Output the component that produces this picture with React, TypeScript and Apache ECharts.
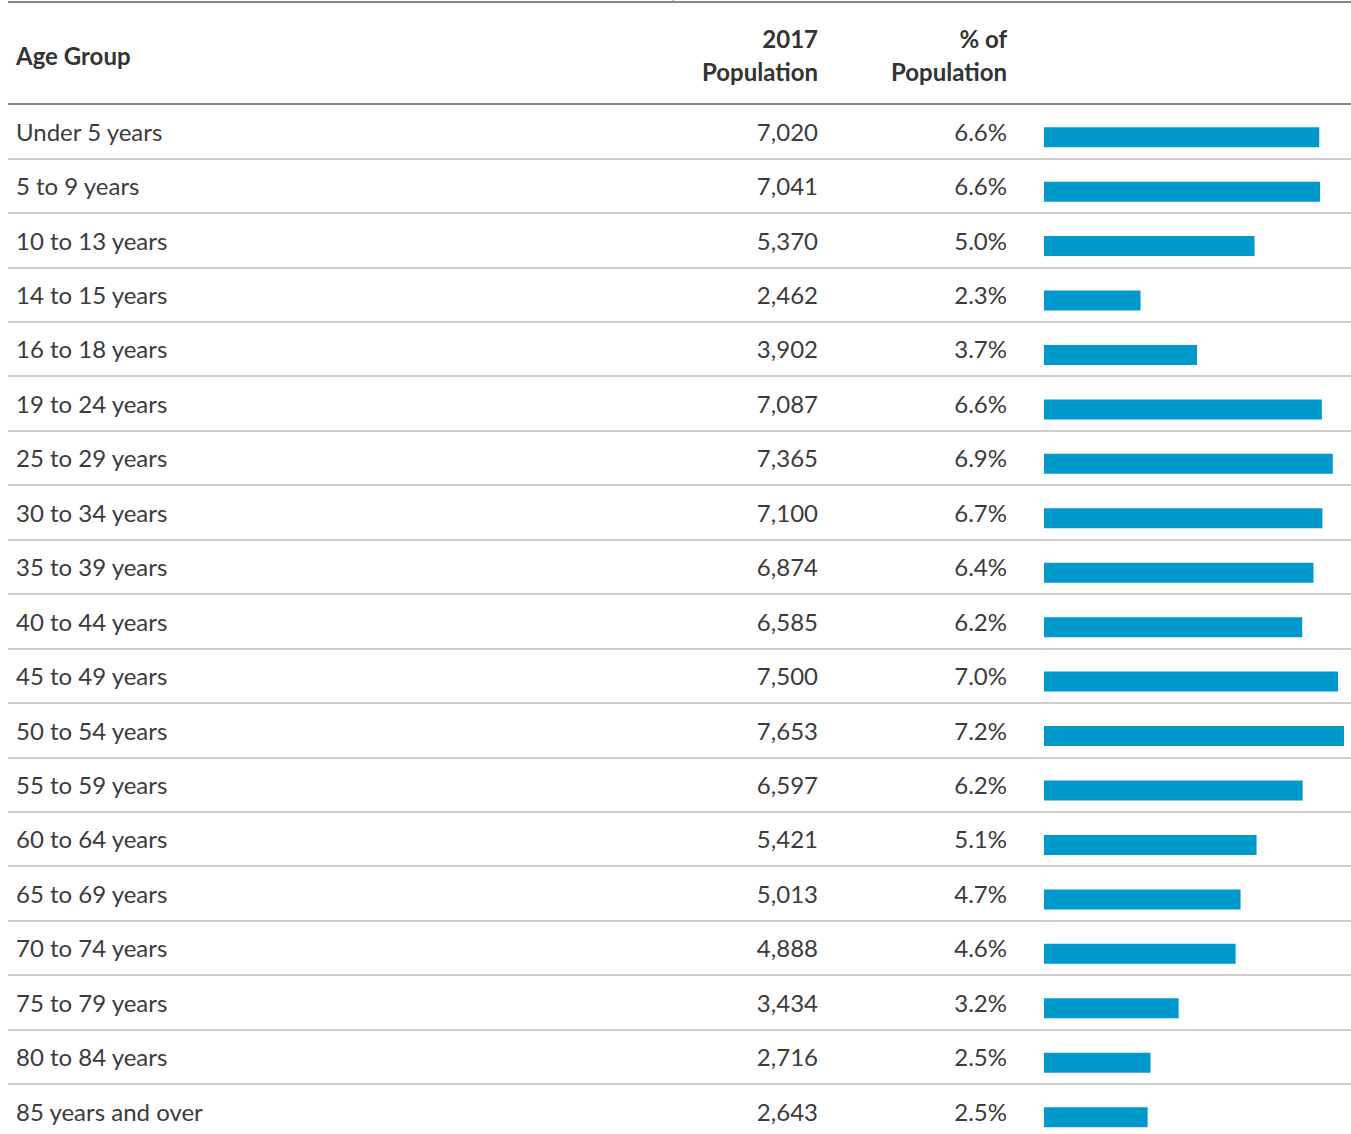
import React, { useEffect, useRef } from "react";
import * as echarts from "echarts";

const ageGroups = [
  "Under 5 years",
  "5 to 9 years",
  "10 to 13 years",
  "14 to 15 years",
  "16 to 18 years",
  "19 to 24 years",
  "25 to 29 years",
  "30 to 34 years",
  "35 to 39 years",
  "40 to 44 years",
  "45 to 49 years",
  "50 to 54 years",
  "55 to 59 years",
  "60 to 64 years",
  "65 to 69 years",
  "70 to 74 years",
  "75 to 79 years",
  "80 to 84 years",
  "85 years and over",
];
const population = [7020, 7041, 5370, 2462, 3902, 7087, 7365, 7100, 6874, 6585, 7500, 7653, 6597, 5421, 5013, 4888, 3434, 2716, 2643];
const percentOfPop = [6.6, 6.6, 5.0, 2.3, 3.7, 6.6, 6.9, 6.7, 6.4, 6.2, 7.0, 7.2, 6.2, 5.1, 4.7, 4.6, 3.2, 2.5, 2.5];
const headerAge = "Age Group";
const headerPop = ["2017", "Population"];
const headerPct = ["% of", "Population"];

const FONT = "Lato";
const TEXT = "#3b3b3b";
const HEAD = "#333333";
const BAR = "#0099cc";

export default function App() {
  const ref = useRef<HTMLDivElement>(null);
  useEffect(() => {
    if (!ref.current) return;
    const chart = echarts.init(ref.current, null, { renderer: "svg" });
    const rowH = 54.44;
    const n = ageGroups.length;
    const gridTop = 104;
    const popLabels = population.map((v) => v.toLocaleString("en-US"));
    const pctLabels = percentOfPop.map((v) => v.toFixed(1) + "%");
    const labelStyle = { fontFamily: FONT, fontSize: 24, color: TEXT };
    const hiddenCat = (data: string[], offset: number, align: string) => ({
      type: "category",
      gridIndex: 0,
      data,
      inverse: true,
      position: "left",
      offset,
      axisLine: { show: false },
      axisTick: { show: false },
      axisLabel: { ...labelStyle, margin: 0, align },
      splitLine: { show: false },
    });
    const headText = (text: string, x: number, y: number, align: string) => ({
      type: "text",
      x,
      y,
      style: { text, font: `bold 24px ${FONT}`, fill: HEAD, textAlign: align, textVerticalAlign: "middle" },
    });
    chart.setOption({
      animation: false,
      grid: [
        { left: 8, right: 0, top: gridTop, height: rowH * n },
        { left: 1044, right: 0, top: gridTop + 6, height: rowH * n },
      ],
      xAxis: [
        { type: "value", gridIndex: 0, min: 0, max: 1, show: false },
        { type: "value", gridIndex: 1, min: 0, max: 7830, show: false },
      ],
      yAxis: [
        {
          ...hiddenCat(ageGroups, -8, "left"),
          splitLine: { show: true, lineStyle: { color: "#cccccc", width: 2 } },
        },
        hiddenCat(popLabels, -810, "right"),
        hiddenCat(pctLabels, -999, "right"),
        {
          type: "category",
          gridIndex: 1,
          data: ageGroups,
          inverse: true,
          show: false,
        },
      ],
      series: [
        {
          type: "bar",
          xAxisIndex: 1,
          yAxisIndex: 3,
          data: population,
          barWidth: 20,
          itemStyle: { color: BAR },
          silent: true,
        },
      ],
      graphic: [
        { type: "line", shape: { x1: 8, y1: 2, x2: 1351, y2: 2 }, style: { stroke: "#888888", lineWidth: 2 }, z: 10 },
        { type: "line", shape: { x1: 673, y1: 0, x2: 673, y2: 2 }, style: { stroke: "#888888", lineWidth: 1 }, z: 10 },
        { type: "line", shape: { x1: 8, y1: 104, x2: 1351, y2: 104 }, style: { stroke: "#888888", lineWidth: 2 }, z: 10 },
        headText(headerAge, 16, 55, "left"),
        headText(headerPop[0], 818, 38, "right"),
        headText(headerPop[1], 818, 71, "right"),
        headText(headerPct[0], 1007, 38, "right"),
        headText(headerPct[1], 1007, 71, "right"),
      ],
    });
    return () => chart.dispose();
  }, []);
  return (
    <div
      style={{ position: "absolute", left: 0, top: 0, width: 1351, height: 1134, overflow: "hidden", background: "#ffffff" }}
    >
      <div ref={ref} style={{ width: 1351, height: 1160 }} />
    </div>
  );
}
